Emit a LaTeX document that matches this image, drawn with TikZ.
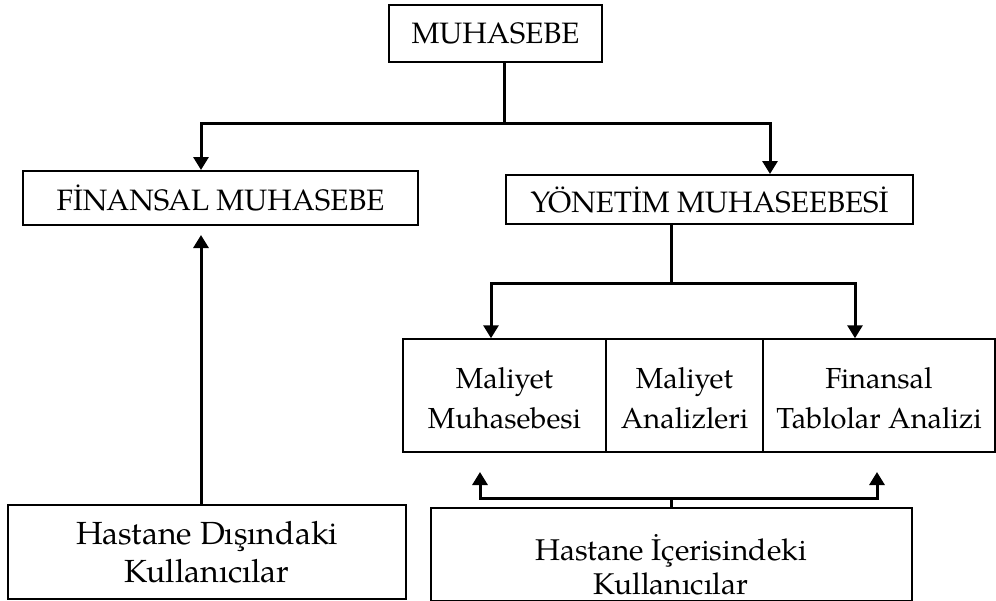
\documentclass[tikz,border=0pt]{standalone}
\usepackage{fontspec}
\setmainfont{TeX Gyre Pagella}
\usetikzlibrary{arrows.meta}
\tikzset{
  box/.style={draw, line width=2pt, inner sep=0pt, align=center},
  capsfont/.style={font=\fontsize{29.5}{38}\selectfont},
  tblfont/.style={font=\fontsize{29}{40}\selectfont},
  lowfont/.style={font=\fontsize{32}{38}\selectfont},
  low2font/.style={font=\fontsize{30}{34}\selectfont},
  txt/.style={inner sep=0pt, align=center},
  conn/.style={line width=3pt},
  tip/.tip={Triangle[length=13pt,width=15pt]},
  arr/.style={conn, -tip},
  darr/.style={conn, tip-tip},
}
\begin{document}
\begin{tikzpicture}[x=1pt,y=-1pt]
\useasboundingbox (0,0) rectangle (996,600);
% boxes
\node[box, capsfont, minimum width=213pt, minimum height=57pt] (mu) at (495.5,33.5) {MUHASEBE};
\node[box, capsfont, minimum width=395pt, minimum height=54pt] (fin) at (220.5,198) {FİNANSAL MUHASEBE};
\node[box, capsfont, minimum width=407pt, minimum height=49pt] (yon) at (709.5,199.5) {YÖNETİM MUHASEEBESİ};
\node[draw, line width=1.5pt, inner sep=0pt, minimum width=592pt, minimum height=113pt] (tbl) at (699,395.5) {};
\node[box, lowfont, minimum width=398pt, minimum height=94pt] (hd) at (207,552) {Hastane Dışındaki\\Kullanıcılar};
\node[box, minimum width=481pt, minimum height=93pt] (hi) at (671.5,554.5) {};
\node[txt, low2font] (hit) at (671,565) {Hastane İçerisindeki\\Kullanıcılar};
% table columns
\coordinate (d1) at (606,0);
\coordinate (d2) at (763,0);
\draw[line width=1.5pt] (tbl.north -| d1) -- (tbl.south -| d1);
\draw[line width=1.5pt] (tbl.north -| d2) -- (tbl.south -| d2);
\node[txt, tblfont] (c1) at (504.5,398) {Maliyet\\Muhasebesi};
\node[txt, tblfont] (c2) at (684.5,398) {Maliyet\\Analizleri};
\node[txt, tblfont] (c3) at (879,398) {Finansal\\Tablolar Analizi};
% top connectors
\coordinate (j1) at (504,123);
\coordinate (a1) at (201,123);
\coordinate (a2) at (770,123);
\draw[conn] (mu.south -| j1) -- (j1);
\draw[darr] (a1 |- fin.north) -- (a1) -- (a2) -- (a2 |- yon.north);
% yonetim to table
\coordinate (j2) at (671,283);
\coordinate (m1) at (491,283);
\coordinate (m2) at (855,283);
\draw[conn] (yon.south -| j2) -- (j2);
\draw[darr] (m1 |- tbl.north) -- (m1) -- (m2) -- (m2 |- tbl.north);
% left users to finansal
\coordinate (f1) at (201,235);
\draw[arr] (hd.north -| f1) -- (f1);
% inner users to table
\coordinate (j3) at (671,498);
\coordinate (b1) at (480,472);
\coordinate (b2) at (877,472);
\draw[conn] (hi.north -| j3) -- (j3);
\draw[darr] (b1) -- (b1 |- j3) -- (b2 |- j3) -- (b2);
\end{tikzpicture}
\end{document}
